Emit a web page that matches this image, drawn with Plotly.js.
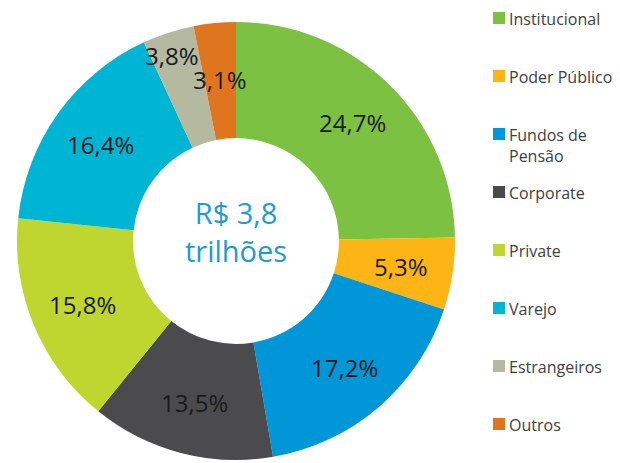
<!DOCTYPE html>
<html>
<head>
<meta charset="utf-8">
<script src="https://cdn.plot.ly/plotly-3.0.1.min.js"></script>
<style>html,body{margin:0;padding:0;background:#fff;}#chart{width:620px;height:463px;}</style>
</head>
<body>
<div id="chart"></div>
<script>
const categories = ["Institucional", "Poder Público", "Fundos de Pensão", "Corporate", "Private", "Varejo", "Estrangeiros", "Outros"];
const legendLabels = ["Institucional", "Poder Público", "Fundos de<br>Pensão", "Corporate", "Private", "Varejo", "Estrangeiros", "Outros"];
const shares = [24.7, 5.3, 17.2, 13.5, 15.8, 16.4, 3.8, 3.1];
const colors = ["#7DC142", "#FDB515", "#0096D8", "#4B4B4D", "#BFD630", "#00B4D3", "#B5B9A0", "#E07520"];
const centerText = "R$ 3,8<br>trilhões";

const W = 620, H = 463;
const font = "'Open Sans', 'Noto Sans', sans-serif";

// pie geometry (pixels)
const dom = { x0: 17, x1: 455, top: 22, bottom: 460 };
const cx = (dom.x0 + dom.x1) / 2, cy = (dom.top + dom.bottom) / 2;
const R = Math.min(dom.x1 - dom.x0, dom.bottom - dom.top) / 2;

const trace = {
  type: "pie",
  labels: categories,
  values: shares,
  textinfo: "none",
  hole: 0.47,
  sort: false,
  direction: "clockwise",
  rotation: 0,
  marker: { colors: colors, line: { width: 0 } },
  domain: { x: [dom.x0 / W, dom.x1 / W], y: [1 - dom.bottom / H, 1 - dom.top / H] },
  showlegend: false,
  hoverinfo: "label+percent"
};

const annotations = [{
  text: centerText, x: cx / W, y: 1 - 232 / H, xref: "paper", yref: "paper",
  showarrow: false, font: { family: font, size: 29, color: "#1E9BD7" }, align: "center"
}];

// slice labels placed along each slice's mid angle
const labelR = { default: 0.76, 6: 0.89, 7: 0.74 };
const labelDx = { 6: -4, 7: 0 };
const total = shares.reduce((a, b) => a + b, 0);
let cum = 0;
shares.forEach((v, i) => {
  const mid = (cum + v / 2) / total * 2 * Math.PI;
  cum += v;
  const r = R * (labelR[i] !== undefined ? labelR[i] : labelR.default);
  const px = cx + r * Math.sin(mid) + (labelDx[i] || 0);
  const py = cy - r * Math.cos(mid);
  annotations.push({
    text: v.toFixed(1).replace(".", ",") + "%",
    xref: "paper", yref: "paper", x: px / W, y: 1 - py / H,
    xanchor: "center", yanchor: "middle", showarrow: false, borderpad: 0,
    font: { family: font, size: 24, color: "#1a1a1a" }
  });
});

const shapes = [];
const rowY = [18, 76, 134, 192, 250, 308, 366, 424];
categories.forEach((c, i) => {
  const y = rowY[i];
  shapes.push({
    type: "rect", xref: "paper", yref: "paper",
    x0: 493 / W, x1: 505 / W, y0: 1 - (y + 6) / H, y1: 1 - (y - 6) / H,
    fillcolor: colors[i], line: { width: 0 }
  });
  annotations.push({
    text: legendLabels[i], xref: "paper", yref: "paper",
    x: 507 / W, y: 1 - (y - 12) / H, xanchor: "left", yanchor: "top",
    showarrow: false, align: "left",
    font: { family: font, size: 16, color: "#404040" }
  });
});

const layout = {
  width: W, height: H,
  margin: { l: 0, r: 0, t: 0, b: 0 },
  paper_bgcolor: "#fff",
  showlegend: false,
  annotations: annotations,
  shapes: shapes
};
Plotly.newPlot("chart", [trace], layout, { displayModeBar: false, staticPlot: true });
</script>
</body>
</html>
